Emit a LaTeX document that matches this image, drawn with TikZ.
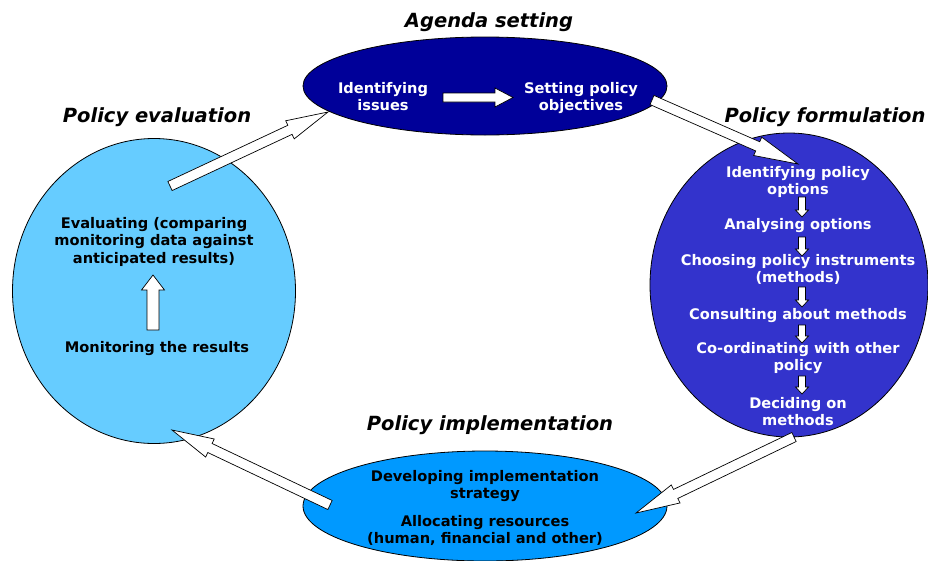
\documentclass[tikz,border=0pt]{standalone}
\usepackage{fontspec}
\setmainfont{DejaVu Sans}
\usetikzlibrary{shapes.geometric,calc}
\definecolor{agendablue}{HTML}{000099}
\definecolor{formblue}{HTML}{3333CC}
\definecolor{evalblue}{HTML}{66CCFF}
\definecolor{implblue}{HTML}{0099FF}
% tail, tip, half shaft, half head, head length
\newcommand\blockarrow[5]{%
  \coordinate (ba-h) at ($(#2)!#5!(#1)$);
  \draw[barrow] ($(#1)!#3!90:(#2)$) -- ($(ba-h)!#3!90:(#2)$) -- ($(ba-h)!#4!90:(#2)$) -- (#2)
     -- ($(ba-h)!#4!-90:(#2)$) -- ($(ba-h)!#3!-90:(#2)$) -- ($(#1)!#3!-90:(#2)$) -- cycle;}
\begin{document}
\begin{tikzpicture}[x=1pt,y=-1pt,
  phase/.style={draw=black, line width=0.8pt, ellipse, inner sep=0pt},
  barrow/.style={draw=black, fill=white, line width=0.7pt, line join=miter},
  title/.style={font=\bfseries\itshape\fontsize{19.5}{22}\selectfont, anchor=base, inner sep=0pt},
  body/.style={font=\bfseries\fontsize{14.6}{17.5}\selectfont, align=center, inner sep=0pt, anchor=north},
  bodyw/.style={body, text=white},
]
\useasboundingbox (0,0) rectangle (928,560);
% ellipses
\node[phase, fill=agendablue, minimum width=364pt, minimum height=98pt] (agenda) at (485,86) {};
\node[phase, fill=formblue, minimum width=278pt, minimum height=304pt] (form) at (789,285) {};
\node[phase, fill=evalblue, minimum width=283pt, minimum height=305pt] (eval) at (154,291) {};
\node[phase, fill=implblue, minimum width=364pt, minimum height=110pt] (impl) at (485,506) {};
% titles
\node[title] (tagenda) at (489,27) {Agenda setting};
\node[title] (tform) at (825,122) {Policy formulation};
\node[title] (teval) at (157,122) {Policy evaluation};
\node[title] (timpl) at (490,430) {Policy implementation};
% cycle arrow end points
\coordinate (e-out) at (170,186);  \coordinate (a-in) at (328,112);
\coordinate (a-out) at (652,100);  \coordinate (f-in) at (798,164);
\coordinate (f-out) at (794,437);  \coordinate (i-in) at (636,513);
\coordinate (i-out) at (330,505);  \coordinate (e-in) at (172,430);
\blockarrow{e-out}{a-in}{5pt}{10pt}{42pt}
\blockarrow{a-out}{f-in}{5pt}{10pt}{44pt}
\blockarrow{f-out}{i-in}{5pt}{10pt}{44pt}
\blockarrow{i-out}{e-in}{5pt}{10pt}{42pt}
% agenda contents
\node[bodyw] (a1) at (383,82) {Identifying\\issues};
\node[bodyw] (a2) at (581,82) {Setting policy\\objectives};
\coordinate (a12s) at (443,97.5); \coordinate (a12e) at (513,97.5);
\blockarrow{a12s}{a12e}{4.5pt}{9.5pt}{18pt}
% formulation contents
\node[bodyw] (f1) at (798,166) {Identifying policy\\options};
\node[bodyw] (f2) at (798,218) {Analysing options};
\node[bodyw] (f3) at (798,254) {Choosing policy instruments\\(methods)};
\node[bodyw] (f4) at (798,308) {Consulting about methods};
\node[bodyw] (f5) at (798,342) {Co-ordinating with other\\policy};
\node[bodyw] (f6) at (798,397) {Deciding on\\methods};
\coordinate (f12s) at (802,197); \coordinate (f12e) at (802,217);
\coordinate (f23s) at (802,237); \coordinate (f23e) at (802,256);
\coordinate (f34s) at (802,287); \coordinate (f34e) at (802,307);
\coordinate (f45s) at (802,325); \coordinate (f45e) at (802,343);
\coordinate (f56s) at (802,376); \coordinate (f56e) at (802,394);
\blockarrow{f12s}{f12e}{3.5pt}{6.5pt}{7pt}
\blockarrow{f23s}{f23e}{3.5pt}{6.5pt}{7pt}
\blockarrow{f34s}{f34e}{3.5pt}{6.5pt}{7pt}
\blockarrow{f45s}{f45e}{3.5pt}{6.5pt}{7pt}
\blockarrow{f56s}{f56e}{3.5pt}{6.5pt}{7pt}
% evaluation contents
\node[body] (ev1) at (154,217) {Evaluating (comparing\\monitoring data against\\anticipated results)};
\node[body, anchor=base] (ev2) at (157,352) {Monitoring the results};
\coordinate (ev21s) at (153,330); \coordinate (ev21e) at (153,275);
\blockarrow{ev21s}{ev21e}{6pt}{11.5pt}{15pt}
% implementation contents
\node[body] (i1) at (485,470) {Developing implementation\\strategy};
\node[body] (i2) at (485,515) {Allocating resources\\(human, financial and other)};
\end{tikzpicture}
\end{document}
